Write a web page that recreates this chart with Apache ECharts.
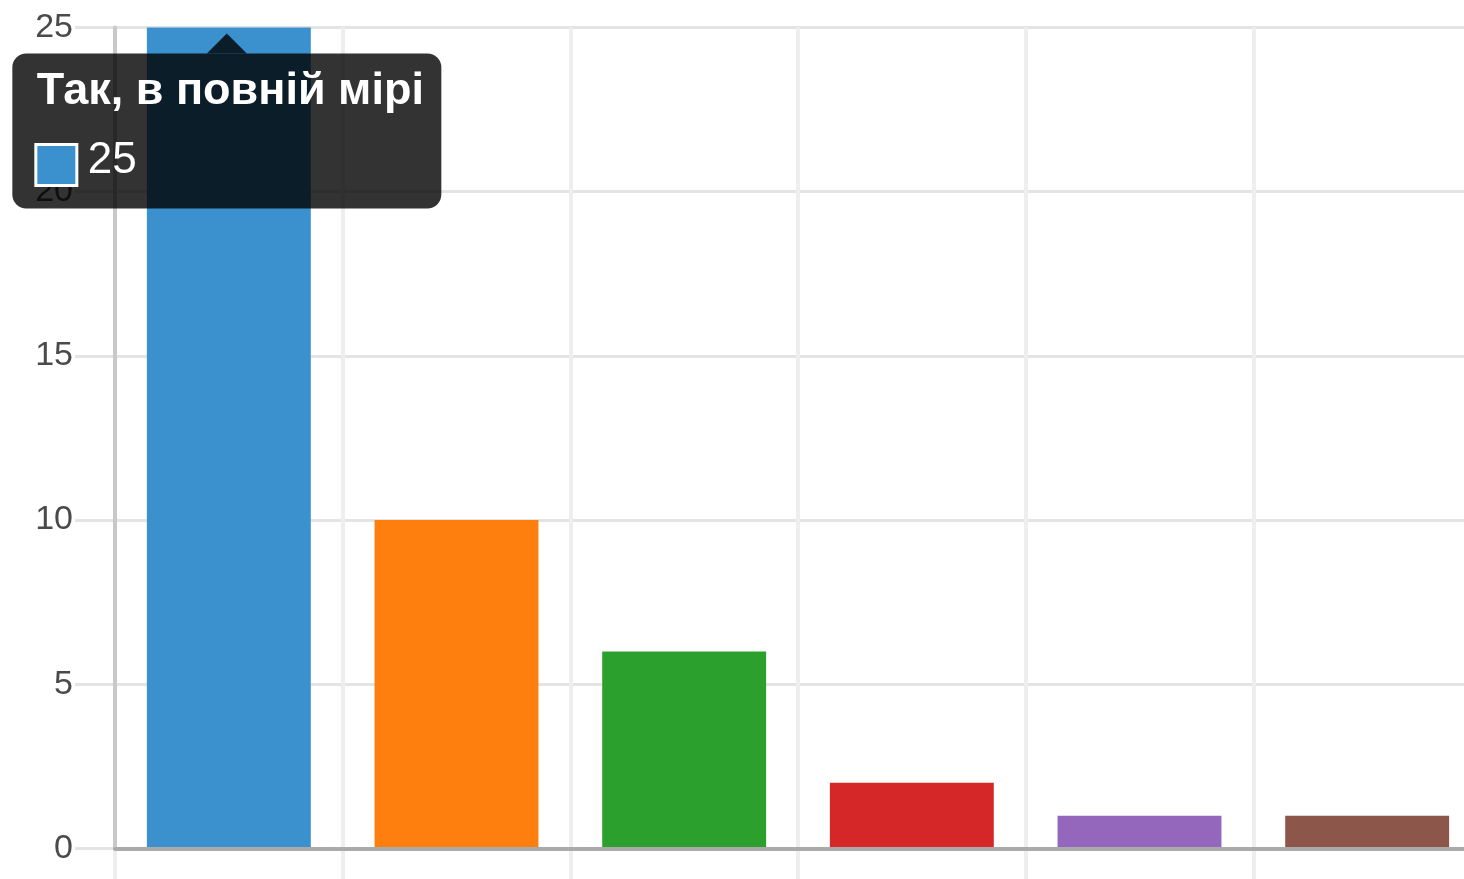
<!DOCTYPE html>
<html>
<head>
<meta charset="utf-8">
<script src="https://cdn.jsdelivr.net/npm/echarts@6/dist/echarts.min.js"></script>
<style>
html,body{margin:0;padding:0;background:#fff;overflow:hidden;width:1464px;height:879px;}
#chart{width:1481px;height:879px;}
</style>
</head>
<body>
<div id="chart"></div>
<script>
const categories = ["Так, в повній мірі", "Так, частково", "Скоріше так", "Скоріше ні", "Ні", "Важко відповісти"];
const values = [25, 10, 6, 2, 1, 1];
const colors = ["#3a91cd", "#ff7f0e", "#2ca02c", "#d62728", "#9467bd", "#8c564b"];
const yTicks = { min: 0, max: 25, interval: 5 };
const highlighted = 0;

const FONT = "'Helvetica Neue', Helvetica, Arial, 'Liberation Sans', sans-serif";
const chart = echarts.init(document.getElementById('chart'), null, { renderer: 'canvas' });

chart.setOption({
  animation: false,
  backgroundColor: '#ffffff',
  grid: { left: 115, right: 0, top: 27.5, bottom: 30.5, containLabel: false },
  xAxis: [{
    type: 'category',
    data: categories,
    boundaryGap: true,
    axisLine: { show: false },
    axisTick: { show: true, alignWithLabel: false, length: 40, lineStyle: { color: '#eeeeee', width: 4 } },
    axisLabel: { show: false },
    splitLine: { show: true, lineStyle: { color: '#eeeeee', width: 4 } },
    z: 1
  }, {
    type: 'category',
    data: categories,
    position: 'bottom',
    axisLine: { show: true, onZero: false, lineStyle: { color: '#aaaaaa', width: 4 } },
    axisTick: { show: false }, axisLabel: { show: false }, splitLine: { show: false },
    z: 6
  }],
  yAxis: [{
    type: 'value',
    min: yTicks.min, max: yTicks.max, interval: yTicks.interval,
    axisLine: { show: false },
    axisTick: { show: true, length: 40, lineStyle: { color: '#e4e4e4', width: 3 } },
    axisLabel: { show: true, fontSize: 34, color: '#4a4a4a', fontFamily: FONT, margin: 42 },
    splitLine: { show: true, lineStyle: { color: '#e4e4e4', width: 3 } },
    z: 1
  }, {
    type: 'value',
    position: 'left',
    min: yTicks.min, max: yTicks.max, interval: yTicks.interval,
    axisLine: { show: true, onZero: false, lineStyle: { color: '#c8c8c8', width: 4 } },
    axisTick: { show: false }, axisLabel: { show: false }, splitLine: { show: false },
    z: 5
  }],
  series: [{
    type: 'bar',
    xAxisIndex: 0, yAxisIndex: 0,
    data: values.map((v, i) => ({ value: v, itemStyle: { color: colors[i] } })),
    barWidth: '72%',
    z: 2
  }]
});

// Tooltip drawn as graphic, anchored to the highlighted bar's top via the axes
const tip = chart.convertToPixel({ seriesIndex: 0 }, [highlighted, values[highlighted]]);
const tx = tip[0] - 2, ty = tip[1] + 6;
const Z = 100;
chart.setOption({
  graphic: [{
    type: 'group',
    x: tx, y: ty, z: Z, zlevel: 1,
    children: [
      { type: 'polygon', z: Z, zlevel: 1, shape: { points: [[0, 0], [-20, 20], [20, 20]] }, style: { fill: 'rgba(0,0,0,0.8)' } },
      { type: 'rect', z: Z, zlevel: 1, shape: { x: -214.5, y: 20, width: 429, height: 155, r: 14 }, style: { fill: 'rgba(0,0,0,0.8)' } },
      { type: 'text', z: Z + 1, zlevel: 1, x: -190, y: 58.5, style: { text: categories[highlighted], fill: '#fff', font: 'bold 45px ' + FONT, textVerticalAlign: 'middle', textAlign: 'left' } },
      { type: 'rect', z: Z + 1, zlevel: 1, shape: { x: -191, y: 111, width: 41, height: 41 }, style: { fill: colors[highlighted], stroke: '#fff', lineWidth: 3 } },
      { type: 'text', z: Z + 1, zlevel: 1, x: -139, y: 127, style: { text: String(values[highlighted]), fill: '#fff', font: '44px ' + FONT, textVerticalAlign: 'middle', textAlign: 'left' } }
    ]
  }]
});
</script>
</body>
</html>
